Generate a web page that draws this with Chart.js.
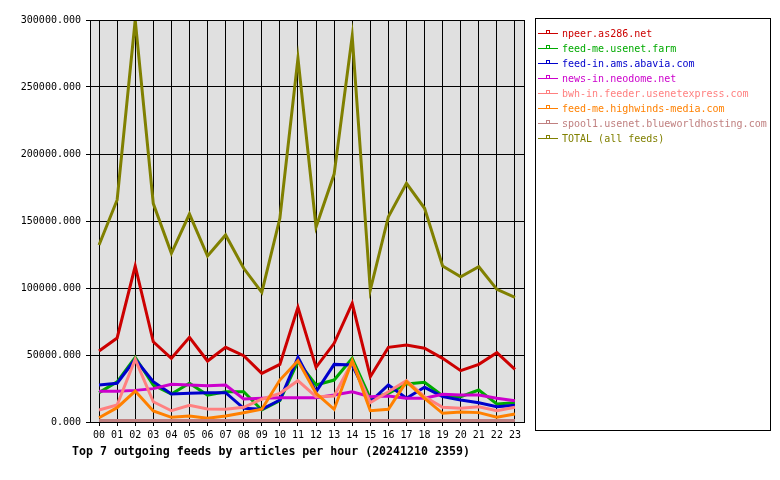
<!DOCTYPE html>
<html>
<head>
<meta charset="utf-8">
<script src="https://cdn.jsdelivr.net/npm/chart.js@4"></script>
<style>
  body { margin: 0; background: #fff; }
</style>
</head>
<body>
<canvas id="feeds" width="780" height="480"></canvas>
<script>
// hours of the day
const hours = ["00", "01", "02", "03", "04", "05", "06", "07", "08", "09", "10", "11",
  "12", "13", "14", "15", "16", "17", "18", "19", "20", "21", "22", "23"];

// articles per hour, per feed
const npeer = [53000, 62700, 116400, 59900, 47500, 63200, 45500, 55700, 49500, 36300, 43000, 85600,
  40800, 58700, 88600, 33800, 55700, 57500, 55000, 47500, 38300, 43000, 51700, 39300];
const usenetFarm = [21900, 30000, 48300, 27600, 20900, 28900, 20100, 22600, 22600, 9000, 15900, 45000,
  27600, 31300, 47500, 17700, 21400, 28400, 29600, 19600, 18900, 23900, 13400, 14400];
const abavia = [27600, 28900, 46800, 30100, 20900, 21400, 21900, 21900, 10200, 9500, 16400, 48300,
  22600, 43000, 42500, 15100, 27600, 17700, 25900, 18900, 16400, 14400, 11400, 12500];
const neodome = [22900, 23000, 23600, 24900, 28100, 27600, 27100, 27600, 17200, 17700, 18100, 18100,
  18100, 20100, 22600, 18900, 19400, 17700, 17700, 20700, 20100, 20100, 17700, 15900];
const usenetExpress = [9000, 12700, 46800, 15100, 8400, 12500, 9700, 9500, 11000, 17000, 21400, 30800,
  18900, 19400, 45000, 14400, 22600, 30800, 18900, 11000, 10200, 11400, 8400, 11000];
const highwinds = [3200, 10700, 23100, 8200, 3500, 4500, 2800, 4500, 6900, 9500, 31300, 45700,
  21400, 9500, 45700, 8400, 9500, 30100, 17700, 6500, 7500, 7000, 3500, 6000];
const blueworld = [1200, 1200, 1200, 1200, 1200, 1200, 1200, 1200, 1200, 1200, 1200, 1200,
  1200, 1200, 1200, 1200, 1200, 1200, 1200, 1200, 1200, 1200, 1200, 1200];
const total = [132100, 165700, 300000, 163000, 125900, 155200, 123900, 139600, 114700, 96800, 152000, 271400,
  145500, 185000, 288000, 98500, 153200, 178100, 159500, 116400, 108400, 115900, 99000, 93000];

const yTicks = [0, 50000, 100000, 150000, 200000, 250000, 300000];

const feedNames = ["npeer.as286.net", "feed-me.usenet.farm", "feed-in.ams.abavia.com", "news-in.neodome.net",
  "bwh-in.feeder.usenetexpress.com", "feed-me.highwinds-media.com", "spool1.usenet.blueworldhosting.com",
  "TOTAL (all feeds)"];
const feedValues = [npeer, usenetFarm, abavia, neodome, usenetExpress, highwinds, blueworld, total];
const feedColors = ["#cc0000", "#00aa00", "#0000cc", "#cc00cc", "#ff8080", "#ff8000", "#c08080", "#808000"];

const chartTitle = "Top 7 outgoing feeds by articles per hour (20241210 2359)";

const mono = "'DejaVu Sans Mono', 'Liberation Mono', monospace";

// plot background, frame, legend box and title
const frame = {
  id: "frame",
  beforeDraw(chart) {
    const c = chart.ctx;
    const a = chart.chartArea;
    c.save();
    c.fillStyle = "#fff";
    c.fillRect(0, 0, chart.width, chart.height);
    c.fillStyle = "#e0e0e0";
    c.fillRect(a.left, a.top, a.right - a.left, a.bottom - a.top);
    c.restore();
  },
  afterDraw(chart) {
    const c = chart.ctx;
    const a = chart.chartArea;
    c.save();
    c.strokeStyle = "#000";
    c.lineWidth = 1;
    c.strokeRect(Math.round(a.left) + 0.5, Math.round(a.top) + 0.5,
      Math.round(a.right - a.left), Math.round(a.bottom - a.top));

    // legend
    c.strokeRect(535.5, 18.5, 235, 412);
    c.font = "10px " + mono;
    c.textBaseline = "middle";
    chart.data.datasets.forEach(function (ds, i) {
      const y = 33 + i * 15;
      c.strokeStyle = ds.borderColor;
      c.beginPath();
      c.moveTo(538, y + 0.5);
      c.lineTo(558, y + 0.5);
      c.stroke();
      c.strokeRect(546.5, y - 2.5, 3, 3);
      c.fillStyle = ds.borderColor;
      c.fillText(ds.label, 562, y + 1);
    });

    // title
    c.fillStyle = "#000";
    c.font = "bold 11.6px " + mono;
    c.fillText(chartTitle, 72, 452);
    c.restore();
  },
};

const ctx = document.getElementById("feeds").getContext("2d");

new Chart(ctx, {
  type: "line",
  data: {
    labels: hours,
    datasets: feedNames.map(function (name, i) {
      return {
        label: name,
        data: feedValues[i],
        borderColor: feedColors[i],
        backgroundColor: feedColors[i],
        borderWidth: 3,
        pointRadius: 0,
        tension: 0,
        order: feedNames.length - i,
      };
    }),
  },
  options: {
    responsive: false,
    animation: false,
    layout: { padding: { top: 20, right: 256, bottom: 0, left: 0 } },
    scales: {
      x: {
        offset: true,
        afterFit: function (scale) { scale.height = 58; },
        grid: { color: "#000", lineWidth: 1, tickLength: 4, drawOnChartArea: true },
        border: { color: "#000" },
        ticks: {
          color: "#000",
          font: { family: mono, size: 10 },
          padding: 3,
          maxRotation: 0,
          autoSkip: false,
        },
      },
      y: {
        min: 0,
        max: 300000,
        afterFit: function (scale) { scale.width = 90; },
        afterBuildTicks: function (scale) {
          scale.ticks = yTicks.map(function (v) { return { value: v }; });
        },
        grid: { color: "#000", lineWidth: 1, tickLength: 4 },
        border: { color: "#000" },
        ticks: {
          color: "#000",
          font: { family: mono, size: 10 },
          padding: 5,
          callback: function (value) {
            return Number(value).toFixed(3);
          },
        },
      },
    },
    plugins: {
      legend: { display: false },
      title: { display: false },
      tooltip: { enabled: false },
    },
  },
  plugins: [frame],
});
</script>
</body>
</html>
